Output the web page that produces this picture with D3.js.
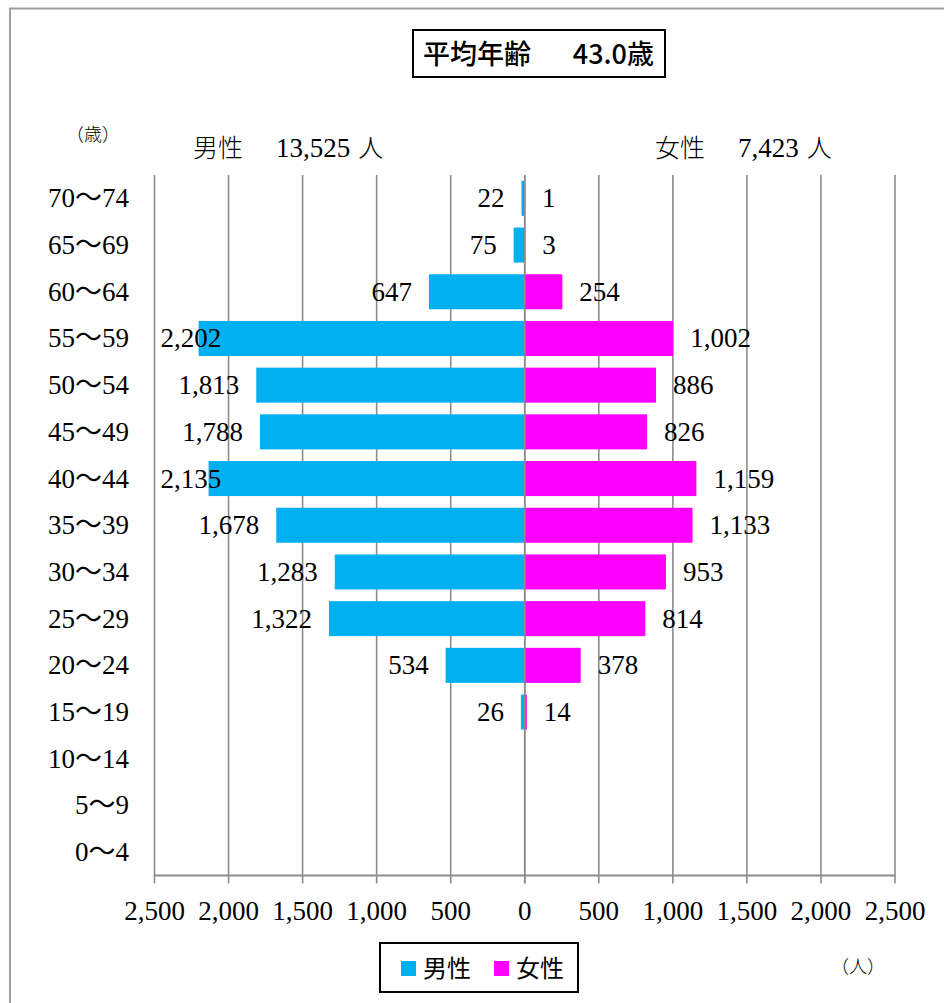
<!DOCTYPE html>
<html><head><meta charset="utf-8">
<script src="https://cdn.jsdelivr.net/npm/d3@7/dist/d3.min.js"></script>
<style>
html,body{margin:0;padding:0;background:#fff;}
svg{display:block;}
</style></head>
<body>
<svg id="chart" width="944" height="1003"></svg>
<script>
// ---- data ----
const ageGroups = ["70～74","65～69","60～64","55～59","50～54","45～49","40～44","35～39","30～34","25～29","20～24","15～19","10～14","5～9","0～4"];
const maleValues = [22,75,647,2202,1813,1788,2135,1678,1283,1322,534,26,null,null,null];
const femaleValues = [1,3,254,1002,886,826,1159,1133,953,814,378,14,null,null,null];
const tickValues = [-2500,-2000,-1500,-1000,-500,0,500,1000,1500,2000,2500];
const titleLeft = "平均年齢";
const titleRight = "43.0歳";
const maleHeader = ["男性　", "13,525", "人"];
const femaleHeader = ["女性　", "7,423", "人"];
const legendLabels = ["男性","女性"];

// ---- layout ----
const serif = "'Liberation Serif','Noto Sans CJK JP',serif";
const sans = "'Noto Sans CJK JP',sans-serif";
const colMale = "#00B0F0", colFemale = "#FF00FF", gridCol = "#8c8c8c";
const svg = d3.select("#chart");

// outer frame
svg.append("rect").attr("x",10).attr("y",8.5).attr("width",1000).attr("height",1000)
  .attr("fill","none").attr("stroke","#a0a0a0").attr("stroke-width",2);

const plot = {left:154.5, right:895, top:175, bottom:875.5};
const x = d3.scaleLinear().domain([-2500,2500]).range([plot.left, plot.right]);
const y = d3.scaleBand().domain(ageGroups).range([plot.top, plot.bottom]).paddingInner(0.25).paddingOuter(0.125);
const cy = d => y(d) + y.bandwidth()/2;

// gridlines (behind bars) with tick extensions
svg.append("g").selectAll("line").data(tickValues).join("line")
  .attr("x1",d=>x(d)).attr("x2",d=>x(d)).attr("y1",plot.top).attr("y2",plot.bottom+8)
  .attr("stroke",gridCol).attr("stroke-width",1.6);

// bars
const bars = svg.append("g");
bars.selectAll("rect.m").data(ageGroups.map((a,i)=>({a,v:maleValues[i]})).filter(d=>d.v!=null)).join("rect")
  .attr("x",d=>x(-d.v)).attr("width",d=>x(0)-x(-d.v)).attr("y",d=>y(d.a)).attr("height",y.bandwidth())
  .attr("fill",colMale);
bars.selectAll("rect.f").data(ageGroups.map((a,i)=>({a,v:femaleValues[i]})).filter(d=>d.v!=null)).join("rect")
  .attr("x",x(0)).attr("width",d=>x(d.v)-x(0)).attr("y",d=>y(d.a)).attr("height",y.bandwidth())
  .attr("fill",colFemale);

// center line & bottom axis line
svg.append("line").attr("x1",x(0)).attr("x2",x(0)).attr("y1",plot.top).attr("y2",plot.bottom+8)
  .attr("stroke",gridCol).attr("stroke-width",1.6);
svg.append("line").attr("x1",plot.left).attr("x2",plot.right).attr("y1",plot.bottom).attr("y2",plot.bottom)
  .attr("stroke",gridCol).attr("stroke-width",2);

// tick labels
const fmt = d3.format(",");
svg.append("g").selectAll("text").data(tickValues).join("text")
  .attr("x",d=>x(d)).attr("y",920).attr("text-anchor","middle")
  .attr("font-family",serif).attr("font-size",27).attr("fill","#000")
  .text(d=>fmt(Math.abs(d)));

// y labels
svg.append("g").selectAll("text").data(ageGroups).join("text")
  .attr("x",129).attr("y",d=>cy(d)+9).attr("text-anchor","end")
  .attr("font-family",serif).attr("font-size",27).attr("fill","#000")
  .text(d=>d);

// value labels
const lab = svg.append("g").attr("font-family",serif).attr("font-size",27).attr("fill","#000");
ageGroups.forEach((a,i)=>{
  const mv = maleValues[i];
  if(mv!=null){
    const t = lab.append("text").attr("y",cy(a)+9).attr("text-anchor","end").text(fmt(mv));
    const w = t.node().getComputedTextLength();
    const right = Math.max(x(-mv)-17, plot.left+6+w);
    t.attr("x",right);
  }
  const fv = femaleValues[i];
  if(fv!=null){
    lab.append("text").attr("x",x(fv)+17).attr("y",cy(a)+9).attr("text-anchor","start").text(fmt(fv));
  }
});

// headers
function header(x0, parts){
  const t = svg.append("text").attr("x",x0).attr("y",157).attr("font-family",serif).attr("font-size",27);
  t.append("tspan").attr("font-family",sans).attr("font-weight",300).attr("font-size",25).text(parts[0]);
  t.append("tspan").attr("dx",8).text(parts[1]);
  t.append("tspan").attr("dx",8).attr("font-family",sans).attr("font-weight",300).attr("font-size",25).text(parts[2]);
}
header(193, maleHeader);
header(655, femaleHeader);
svg.append("text").attr("x",66).attr("y",141).attr("font-family",sans).attr("font-weight",300).attr("font-size",18).text("（歳）");

// title box
svg.append("rect").attr("x",413).attr("y",30).attr("width",252).attr("height",47)
  .attr("fill","#fff").attr("stroke","#000").attr("stroke-width",2);
svg.append("text").attr("x",423).attr("y",64).attr("font-family",sans).attr("font-size",27).attr("font-weight",500).text(titleLeft);
svg.append("text").attr("x",654).attr("y",64).attr("text-anchor","end").attr("font-family",sans).attr("font-size",27).attr("font-weight",500).text(titleRight);

// legend
svg.append("rect").attr("x",380).attr("y",943).attr("width",198).attr("height",49)
  .attr("fill","#fff").attr("stroke","#000").attr("stroke-width",2);
const lg = svg.append("g");
[[401,colMale,legendLabels[0]],[494,colFemale,legendLabels[1]]].forEach(([lx,c,t])=>{
  lg.append("rect").attr("x",lx).attr("y",961).attr("width",15).attr("height",15).attr("fill",c);
  lg.append("text").attr("x",lx+22).attr("y",977).attr("font-family",sans).attr("font-size",24).text(t);
});
svg.append("text").attr("x",831).attr("y",973).attr("font-family",sans).attr("font-weight",300).attr("font-size",18).text("（人）");
</script>
</body></html>
